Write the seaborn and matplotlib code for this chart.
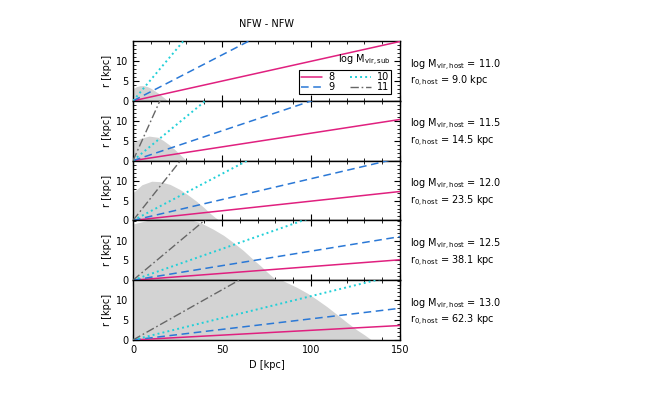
import numpy as np
import pandas as pd
import matplotlib
matplotlib.use("Agg")
from matplotlib import pyplot as plt
from matplotlib.ticker import MultipleLocator
import seaborn as sns

sns.set_style("ticks", {'text.color': 'black', 'axes.labelcolor': 'black',
                        'xtick.color': 'black', 'ytick.color': 'black',
                        'axes.edgecolor': 'black'})
plt.rcParams['font.family'] = ['DejaVu Sans']

# host halo properties, one per panel
host_logm = [11.0, 11.5, 12.0, 12.5, 13.0]
host_r0 = [9.0, 14.5, 23.5, 38.1, 62.3]

# subhalo masses and the radius each line reaches at D = 150 kpc
sub_logm = ['8', '9', '10', '11']
d_end = [0.0, 150.0]
r_end_p1 = [15.0, 34.8, 80.0, np.nan]
r_end_p2 = [10.4, 22.6, 55.7, 150.0]
r_end_p3 = [7.3, 15.8, 35.3, 85.0]
r_end_p4 = [5.15, 11.0, 23.7, 56.4]
r_end_p5 = [3.65, 8.0, 16.6, 38.0]
r_end = [r_end_p1, r_end_p2, r_end_p3, r_end_p4, r_end_p5]

# shaded region boundary (D, r) per panel
shade_d_p1 = [0, 2, 4, 6, 8, 10, 12, 14, 16, 18, 19.5]
shade_r_p1 = [3.1, 3.6, 3.85, 3.85, 3.6, 3.2, 2.6, 2.0, 1.3, 0.6, 0]
shade_d_p2 = [0, 4, 9, 14, 17, 20.8, 24, 27, 30]
shade_r_p2 = [4.4, 5.6, 6.2, 5.9, 5.1, 3.85, 2.6, 1.3, 0]
shade_d_p3 = [0, 5, 10.5, 15, 20.8, 26.4, 31, 35.8, 40, 43.3, 46, 48.5]
shade_r_p3 = [7.0, 9.0, 9.9, 9.8, 9.1, 7.8, 6.4, 4.8, 3.2, 1.8, 0.8, 0]
shade_d_p4 = [0, 10, 20, 30, 38, 45, 51, 56.4, 62, 67.6, 72, 75, 78, 80.7]
shade_r_p4 = [14.2, 15.3, 15.8, 15.6, 14.5, 12.9, 11.3, 9.5, 7.5, 5.2, 3.5, 2.2, 1.0, 0]
shade_d_p5 = [0, 40, 78, 85, 92, 98, 103, 109, 114.4, 120, 125.6, 130, 134]
shade_r_p5 = [20, 20, 16.3, 14.8, 13.3, 11.8, 10.3, 8.4, 6.5, 4.5, 2.6, 1.3, 0]
shade_d = [shade_d_p1, shade_d_p2, shade_d_p3, shade_d_p4, shade_d_p5]
shade_r = [shade_r_p1, shade_r_p2, shade_r_p3, shade_r_p4, shade_r_p5]

palette = {'8': '#e0207f', '9': '#2a78d6', '10': '#22d0d8', '11': '#666666'}
dashes = {'8': '', '9': (5, 3), '10': (1, 1.6), '11': (6, 2, 1.2, 2)}
widths = {'8': 1.1, '9': 1.1, '10': 1.4, '11': 1.0}

fig, axes = plt.subplots(5, 1, figsize=(6.64, 3.99), dpi=100, sharex=True)
fig.subplots_adjust(left=0.2003, right=0.6024, top=0.897, bottom=0.148, hspace=0)

for i, ax in enumerate(axes):
    ax.fill_between(shade_d[i], 0, shade_r[i], color='#d3d3d3', lw=0, zorder=1)

    rows = []
    for m, r in zip(sub_logm, r_end[i]):
        for d, rr in zip(d_end, [0.0, r]):
            rows.append({'D': d, 'r': rr, 'sub': m})
    df = pd.DataFrame(rows).dropna()
    for m in sub_logm:
        sub = df[df['sub'] == m]
        if len(sub) == 0:
            continue
        sns.lineplot(data=sub, x='D', y='r', color=palette[m], lw=widths[m],
                     ax=ax, label=m, zorder=3)
        if dashes[m]:
            ax.lines[-1].set_dashes(dashes[m])
    if ax.get_legend() is not None:
        ax.get_legend().remove()

    ax.set_xlim(0, 150)
    ax.set_ylim(0, 15.1)
    ax.set_yticks([0, 5, 10])
    ax.xaxis.set_major_locator(MultipleLocator(50))
    ax.xaxis.set_minor_locator(MultipleLocator(10))
    ax.yaxis.set_minor_locator(MultipleLocator(1))
    ax.tick_params(which='both', direction='in', top=True, right=True, labelsize=7)
    ax.tick_params(which='major', length=4, width=0.8)
    ax.tick_params(which='minor', length=2, width=0.6)
    for s in ax.spines.values():
        s.set_linewidth(1.0)
    ax.set_ylabel('r [kpc]', fontsize=7, labelpad=3)
    ax.set_xlabel('')

    ax.text(1.037, 0.60, r'log M$_{\rm vir,host}$ = %.1f' % host_logm[i],
            transform=ax.transAxes, fontsize=7, va='center', ha='left')
    ax.text(1.037, 0.32, r'r$_{\rm 0,host}$ = %.1f kpc' % host_r0[i],
            transform=ax.transAxes, fontsize=7, va='center', ha='left')

# legend in the top panel
h, l = axes[0].get_legend_handles_labels()
leg = axes[0].legend(h, l, ncol=2, loc='lower right', bbox_to_anchor=(0.975, 0.08),
                     fontsize=7, frameon=True, fancybox=False, framealpha=1,
                     edgecolor='black', handlelength=2.2, columnspacing=1.6,
                     borderpad=0.2, labelspacing=0.0, handletextpad=0.6,
                     borderaxespad=0.2)
leg.get_frame().set_linewidth(0.8)
axes[0].text(0.965, 0.67, r'log M$_{\rm vir,sub}$', transform=axes[0].transAxes,
             fontsize=7, ha='right', va='center')

axes[0].set_title('NFW - NFW', fontsize=7, pad=10)
axes[-1].set_xlabel('D [kpc]', fontsize=7)

fig.savefig('out.png', dpi=100)
